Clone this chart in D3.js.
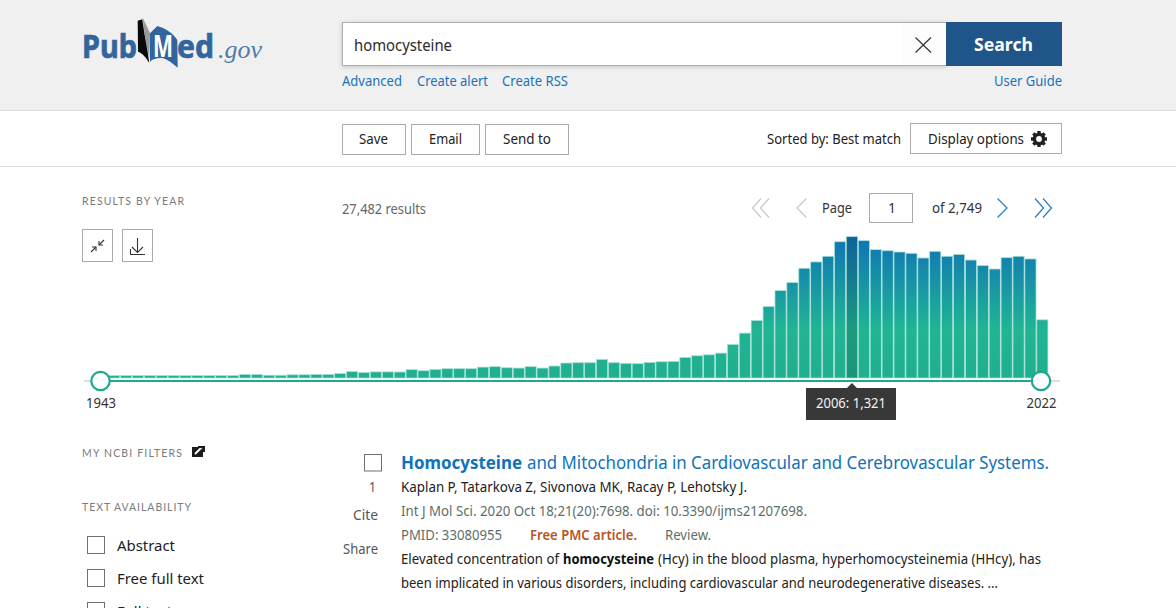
<!DOCTYPE html>
<html><head><meta charset="utf-8">
<script src="https://cdn.jsdelivr.net/npm/d3@7/dist/d3.min.js"></script>
<style>html,body{margin:0;padding:0;background:#fff;overflow:hidden}svg{display:block}text{font-family:"Noto Sans",sans-serif}</style>
</head><body><div id="chart"></div>
<script>
const firstYear = 1943, lastYear = 2022;
const years = d3.range(firstYear, lastYear + 1);
const counts = [
  22,23,23,23,23,23,23,23,23,23,23,23,33,33,26,26,30,30,33,33,42,60,51,57,57,56,
  78,68,81,87,87,87,102,106,96,93,106,93,112,140,143,143,174,143,137,134,146,152,155,193,208,217,233,
  314,420,538,668,817,892,1026,1085,1138,1274,1321,1284,1200,1190,1178,1166,1122,1184,1138,1156,1103,1051,1019,1125,1138,1113,544
];
const hoverYear = 2006, hoverCount = 1321;
const hoverLabel = d3.format(",")(hoverCount);

const FONT = '"Noto Sans",sans-serif';
const svg = d3.select("#chart").append("svg").attr("width",1176).attr("height",608).attr("viewBox","0 0 1176 608");
const defs = svg.append("defs");

function T(str,x0,x1,base,size,color,o={}){
  const e = svg.append("text").attr("x",x0).attr("y",base).attr("font-size",size).attr("fill",color)
    .attr("textLength",x1-x0).attr("lengthAdjust",o.spacing?"spacing":"spacingAndGlyphs").text(str);
  if(o.w) e.attr("font-weight",o.w);
  if(o.f) e.style("font-family",o.f);
  if(o.i) e.attr("font-style",o.i);
  if(o.s) e.attr("stroke",color).attr("stroke-width",o.s);
  return e;
}
function R(x,y,w,h,fill,stroke,sw=1){
  return svg.append("rect").attr("x",x).attr("y",y).attr("width",w).attr("height",h)
    .attr("fill",fill).attr("stroke",stroke||"none").attr("stroke-width",sw);
}
function L(pts,color,sw=1.3){
  return svg.append("polyline").attr("points",pts).attr("fill","none").attr("stroke",color).attr("stroke-width",sw);
}
const CAPTION = {spacing:true,f:'Lato,sans-serif'};

/* header band */
R(0,0,1176,110,"#f0f0f0");
R(0,110,1176,1,"#dcdcdc");
R(0,166,1176,1,"#dcdcdc");

/* logo */
const LOGO="#31659c";
T("Pub",82,137,57.5,32,LOGO,{w:700,s:0.7});
svg.append("path").attr("d","M142.6 17.5 L150 33 L149.4 58 L147.5 50 L144.5 33 Z").attr("fill","#9a9a9a");
svg.append("path").attr("d","M137.7 20.7 L142.3 19.3 L144.3 33 L147.5 51 L149.3 63 C146 57 142 53 138 51.7 Z").attr("fill","#0a0a0a");
svg.append("path").attr("d","M150 33.3 L157.3 26 C165 28 173 33 177.3 40 L177.7 67.7 C172 63 168 60 163.3 58.3 C158 57.5 153 59 150 61.7 Z").attr("fill",LOGO);
T("M",153,173,56.5,30,"#fff",{w:700});
T("ed",177,214,57.5,32,LOGO,{w:700,s:0.7});
T(".gov",218,262,57.5,26,"#4f7cab",{f:'"Liberation Serif",serif',i:"italic"});

/* search */
R(342.5,22.5,604,43,"#fff","#aeaeae",1).attr("filter","drop-shadow(0 1px 2px rgba(0,0,0,.18))");
R(902,23,44,42,"#fdfdfd");
R(946,22,116,44,"#20558a");
T("homocysteine",354,452,51,15.5,"#2b2b2b");
L("915.5,37.5 931,52.5","#333",1.2); L("931,37.5 915.5,52.5","#333",1.2);
T("Search",974,1033,51,17,"#fff",{w:700});
const LINK="#1a73ba";
T("Advanced",342,402,86,14,LINK);
T("Create alert",417,488,86,14,LINK);
T("Create RSS",502,568,86,14,LINK);
T("User Guide",994,1062,86,14,LINK);

/* action buttons */
R(342.5,124.5,63,30,"#fff","#ababab");
R(411.5,124.5,68,30,"#fff","#ababab");
R(485.5,124.5,83,30,"#fff","#ababab");
T("Save",359,388,144,14,"#212121");
T("Email",429,462,144,14,"#212121");
T("Send to",503,551,144,14,"#212121");
T("Sorted by: Best match",767,901,144,14,"#212121");
R(910.5,123.5,151,30,"#fff","#ababab");
T("Display options",928,1024,144,14,"#212121");
const gear = svg.append("g").attr("transform","translate(1039,139)");
gear.append("circle").attr("r",4.6).attr("fill","none").attr("stroke","#212121").attr("stroke-width",3.4);
d3.range(8).forEach(i=>gear.append("rect").attr("x",-1.7).attr("y",-8).attr("width",3.4).attr("height",3.4)
  .attr("fill","#212121").attr("transform",`rotate(${i*45})`));

/* results row */
T("RESULTS BY YEAR",82,184,205,10.5,"#7b7b7b",CAPTION);
T("27,482 results",342,426,214,13.5,"#666");
R(82.5,229.5,30,32,"#fff","#ababab");
R(122.5,229.5,30,32,"#fff","#ababab");
L("91,252 96,247","#333",1.1); L("92,247 96,247 96,251","#333",1.1);
L("104,240 99,245","#333",1.1); L("103,245 99,245 99,241","#333",1.1);
L("137.5,238 137.5,252","#333",1.1); L("132,247 137.5,252.5 143,247","#333",1.1);
L("130.5,249 130.5,254.5 145,254.5","#333",1.1);

const GREY="#c9c9c9", BLUE="#2a80c4";
L("761,198.5 752.5,208 761,217.5",GREY); L("769,198.5 760.5,208 769,217.5",GREY);
L("806.5,198.5 797,208 806.5,217.5",GREY);
T("Page",822,852,213,13.5,"#333");
R(869.5,193.5,43,29,"#fff","#ababab");
T("1",888,896,213,14,"#333");
T("of 2,749",932,982,213,13.5,"#333");
L("997.5,198.5 1007,208 997.5,217.5",BLUE);
L("1035,198.5 1043.5,208 1035,217.5",BLUE); L("1043,198.5 1051.5,208 1043,217.5",BLUE);

/* histogram */
const barLeft = 96.3, barStep = 11.9;
const x = d3.scaleBand().domain(years).range([barLeft, barLeft + barStep*years.length]).paddingInner(0.06).paddingOuter(0.03);
const y = d3.scaleLinear().domain([0,hoverCount]).range([378,236.7]);
const xHandle = d3.scaleLinear().domain([firstYear,lastYear]).range([100.5,1041]);

const grad = defs.append("linearGradient").attr("id","barFill").attr("gradientUnits","userSpaceOnUse")
  .attr("x1",0).attr("x2",0).attr("y1",y(hoverCount)).attr("y2",y(0));
[[0,"#0f73b6"],[0.66,"#20b594"],[1,"#20ae8f"]].forEach(([o,c])=>grad.append("stop").attr("offset",o).attr("stop-color",c));

svg.append("g").selectAll("rect").data(years).join("rect")
  .attr("x",d=>x(d)).attr("width",x.bandwidth())
  .attr("y",(d,i)=>y(counts[i])).attr("height",(d,i)=>y(0)-y(counts[i]))
  .attr("fill","url(#barFill)").attr("stroke","#a9e2d8").attr("stroke-width",0.8);
svg.append("rect").attr("x",x(hoverYear)).attr("width",x.bandwidth())
  .attr("y",y(hoverCount)).attr("height",y(0)-y(hoverCount)).attr("fill","#000").attr("opacity",0.14);

/* slider track + handles */
svg.append("line").attr("x1",84).attr("x2",1060).attr("y1",381).attr("y2",381).attr("stroke","#d4d4d4").attr("stroke-width",1.6);
svg.append("line").attr("x1",xHandle(firstYear)).attr("x2",xHandle(lastYear)).attr("y1",381).attr("y2",381).attr("stroke","#1fa88e").attr("stroke-width",2);
svg.append("g").selectAll("circle").data([firstYear,lastYear]).join("circle")
  .attr("cx",d=>xHandle(d)).attr("cy",381).attr("r",9.2).attr("fill","#fff").attr("stroke","#1fa88e").attr("stroke-width",2.2);

const axis = d3.axisBottom(xHandle).tickValues([firstYear,lastYear]).tickFormat(d3.format("d")).tickSize(0).tickPadding(0);
const axG = svg.append("g").attr("transform","translate(0,396)").call(axis);
axG.select(".domain").remove();
axG.selectAll("text").attr("font-size",13.5).attr("fill","#333").style("font-family",FONT).attr("y",2).attr("dy","0.71em");
axG.selectAll("text").attr("textLength",30).attr("lengthAdjust","spacingAndGlyphs");

/* tooltip */
const tipX = x(hoverYear)+x.bandwidth()/2;
svg.append("path").attr("d",d3.line()([[tipX-6,389],[tipX,383],[tipX+6,389]])).attr("fill","#383838");
R(806,388,90,32,"#383838");
T(`${hoverYear}: ${hoverLabel}`,816,886,408,13.5,"#f2f2f2");

/* sidebar */
T("MY NCBI FILTERS",82,182,457,10.5,"#7b7b7b",CAPTION);
R(192,447,11,10,"#1c1c1c");
svg.append("path").attr("d","M195 454 L202 447").attr("stroke","#fff").attr("stroke-width",2).attr("fill","none");
svg.append("path").attr("d","M198 446 H205 V452 H203 V448 H198 Z").attr("fill","#1c1c1c");
T("TEXT AVAILABILITY",82,191,511,10.5,"#7b7b7b",CAPTION);
R(87.5,536.5,17,17,"#fff","#707070");
R(87.5,569.5,17,17,"#fff","#707070");
R(87.5,602.5,17,17,"#fff","#707070");
T("Abstract",117,175,551,15,"#212121");
T("Free full text",117,204,584,15,"#212121");
T("Full text",117,172,617,15,"#212121");

/* first result */
R(364.5,454.5,17,16.5,"#fff","#707070");
T("1",369,376,492,13.5,"#555");
T("Cite",353,378,520,13.5,"#555");
T("Share",343,378,554,13.5,"#555");
const TITLE="#0e72bb";
T("Homocysteine",401,522,469,18,TITLE,{w:700});
T("and Mitochondria in Cardiovascular and Cerebrovascular Systems.",527,1049,469,18,TITLE);
T("Kaplan P, Tatarkova Z, Sivonova MK, Racay P, Lehotsky J.",401,492,492,13.5,"#212121").attr("textLength",346);
const META="#5c6f66";
T("Int J Mol Sci. 2020 Oct 18;21(20):7698. doi: 10.3390/ijms21207698.",401,807,516,13.5,META);
T("PMID: 33080955",401,502,540,13.5,META);
T("Free PMC article.",530,637,540,13.5,"#b9541d",{w:600});
T("Review.",665,711,540,13.5,META);
T("Elevated concentration of",401,559,564,13.5,"#212121");
T("homocysteine",563,654,564,13.5,"#111",{w:700});
T("(Hcy) in the blood plasma, hyperhomocysteinemia (HHcy), has",658,1041,564,13.5,"#212121");
T("been implicated in various disorders, including cardiovascular and neurodegenerative diseases. ...",401,998,588,13.5,"#212121");
</script></body></html>
